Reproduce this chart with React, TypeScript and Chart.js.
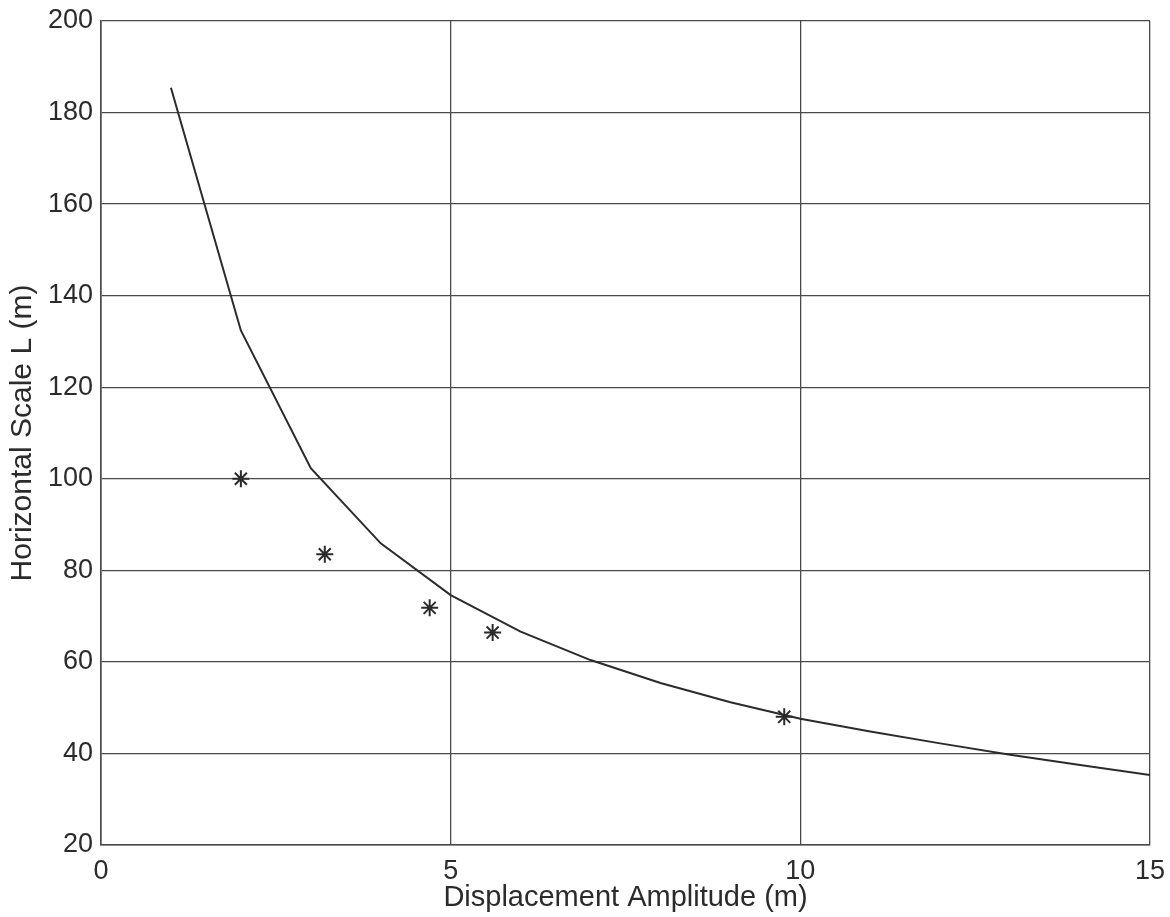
import React, { useEffect, useRef } from "react";
import { Chart, registerables } from "chart.js";

Chart.register(...registerables);

// Model curve: horizontal scale L versus displacement amplitude
const curveAmplitude = [1, 2, 3, 4, 5, 6, 7, 8, 9, 10, 11, 12, 13, 14, 15];
const curveScale = [185.4, 132.4, 102.3, 85.9, 74.6, 66.6, 60.4, 55.4, 51.2, 47.6, 44.8, 42.2, 39.7, 37.5, 35.3];

// Observed cases (asterisks)
const obsAmplitude = [2.0, 3.2, 4.7, 5.6, 9.77];
const obsScale = [100, 83.5, 71.8, 66.4, 48.0];

const xTicks = [0, 5, 10, 15];
const yTicks = [20, 40, 60, 80, 100, 120, 140, 160, 180, 200];

const FONT = "'Liberation Sans', Arial, Helvetica, sans-serif";
const INK = "#2b2b2b";
const GRID = "#4a4a4a";

export default function App() {
  const canvasRef = useRef<HTMLCanvasElement | null>(null);

  useEffect(() => {
    const canvas = canvasRef.current;
    if (!canvas) return;

    const chart = new Chart(canvas, {
      type: "scatter",
      data: {
        datasets: [
          {
            label: "model",
            data: curveAmplitude.map((x, i) => ({ x, y: curveScale[i] })),
            showLine: true,
            borderColor: INK,
            borderWidth: 2,
            pointRadius: 0,
            tension: 0,
          },
          {
            label: "observed",
            data: obsAmplitude.map((x, i) => ({ x, y: obsScale[i] })),
            showLine: false,
            pointStyle: "star",
            pointRadius: 8.5,
            borderColor: INK,
            backgroundColor: INK,
            borderWidth: 2,
          },
        ],
      },
      options: {
        animation: false,
        responsive: false,
        maintainAspectRatio: false,
        layout: { padding: { top: 21, right: 20, left: 0, bottom: 0 } },
        plugins: {
          legend: { display: false },
          tooltip: { enabled: false },
        },
        scales: {
          x: {
            type: "linear",
            min: 0,
            max: 15,
            afterBuildTicks: (scale: any) => {
              scale.ticks = xTicks.map((v) => ({ value: v }));
            },
            afterFit: (scale: any) => {
              scale.height = 72;
              scale.paddingLeft = 0;
              scale.paddingRight = 0;
            },
            grid: {
              color: GRID,
              lineWidth: 1.3,
              drawTicks: false,
            },
            border: { color: GRID, width: 1.6 },
            ticks: {
              color: INK,
              font: { family: FONT, size: 27 },
              padding: 10,
            },
            title: {
              display: true,
              text: "Displacement Amplitude (m)",
              color: INK,
              font: { family: FONT, size: 29 },
              padding: { top: 0, bottom: 2 },
            },
          },
          y: {
            type: "linear",
            min: 20,
            max: 200,
            afterBuildTicks: (scale: any) => {
              scale.ticks = yTicks.map((v) => ({ value: v }));
            },
            afterFit: (scale: any) => {
              scale.width = 101;
              scale.paddingTop = 0;
              scale.paddingBottom = 0;
            },
            grid: {
              color: GRID,
              lineWidth: 1.3,
              drawTicks: false,
            },
            border: { color: GRID, width: 1.6 },
            ticks: {
              color: INK,
              font: { family: FONT, size: 27 },
              padding: 8,
            },
            title: {
              display: true,
              text: "Horizontal Scale L (m)",
              color: INK,
              font: { family: FONT, size: 30 },
              padding: { top: 5, bottom: 0 },
            },
          },
        },
      },
    });

    return () => chart.destroy();
  }, []);

  return (
    <div style={{ position: "fixed", left: 0, top: 0, width: 1170, height: 917, background: "#fff" }}>
      <canvas ref={canvasRef} width={1170} height={917} style={{ display: "block" }} />
    </div>
  );
}
